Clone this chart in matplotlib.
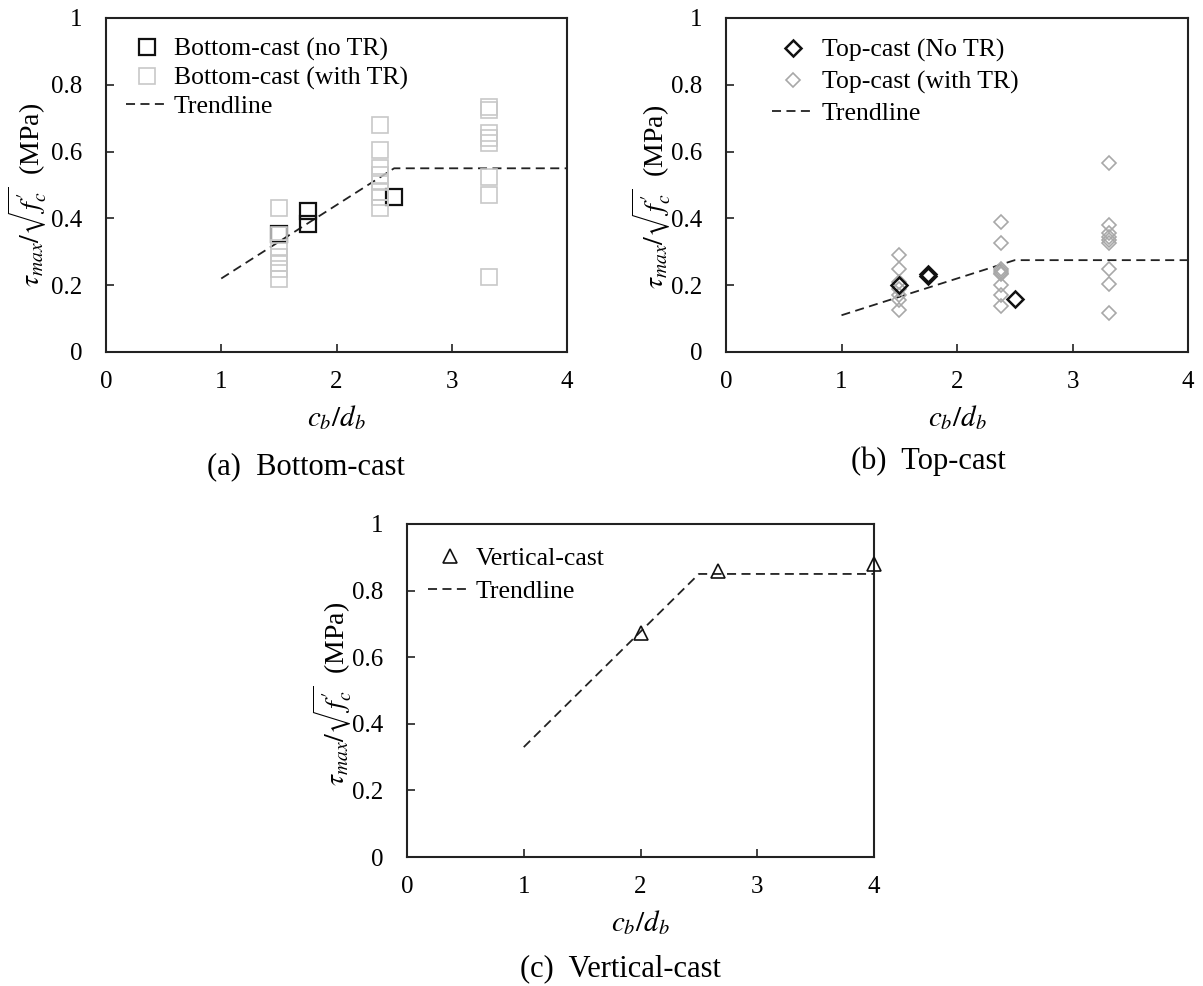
import matplotlib
matplotlib.use('Agg')
import matplotlib.pyplot as plt

plt.rcParams['font.family'] = ['Liberation Serif', 'DejaVu Serif']
plt.rcParams['mathtext.fontset'] = 'stix'

# (a) bottom-cast
a_x_notr = [1.5, 1.75, 1.75, 2.5]
a_y_notr = [0.352, 0.421, 0.383, 0.465]
a_x_tr = [1.5, 1.5, 1.5, 1.5, 1.5, 1.5, 1.5,
          2.38, 2.38, 2.38, 2.38, 2.38, 2.38, 2.38, 2.38,
          3.32, 3.32, 3.32, 3.32, 3.32, 3.32, 3.32, 3.32]
a_y_tr = [0.43, 0.35, 0.31, 0.285, 0.265, 0.25, 0.22,
          0.68, 0.605, 0.55, 0.53, 0.51, 0.48, 0.465, 0.43,
          0.735, 0.725, 0.655, 0.64, 0.625, 0.525, 0.47, 0.225]
a_trend_x = [1.0, 2.5, 4.0]
a_trend_y = [0.22, 0.55, 0.55]

# (b) top-cast
b_x_notr = [1.5, 1.75, 1.75, 2.5]
b_y_notr = [0.20, 0.234, 0.228, 0.16]
b_x_tr = [1.5, 1.5, 1.5, 1.5, 1.5, 1.5, 1.5,
          2.38, 2.38, 2.38, 2.38, 2.38, 2.38, 2.38, 2.38, 2.38,
          3.32, 3.32, 3.32, 3.32, 3.32, 3.32, 3.32, 3.32, 3.32]
b_y_tr = [0.29, 0.25, 0.21, 0.19, 0.17, 0.155, 0.125,
          0.39, 0.325, 0.248, 0.243, 0.238, 0.233, 0.20, 0.17, 0.138,
          0.565, 0.38, 0.355, 0.345, 0.335, 0.325, 0.25, 0.205, 0.118]
b_trend_x = [1.0, 2.5, 4.0]
b_trend_y = [0.11, 0.275, 0.275]

# (c) vertical-cast
c_x = [2.0, 2.667, 4.0]
c_y = [0.672, 0.858, 0.88]
c_trend_x = [1.0, 2.5, 4.0]
c_trend_y = [0.33, 0.85, 0.85]

x_ticks = [0, 1, 2, 3, 4]
y_ticks = [0, 0.2, 0.4, 0.6, 0.8, 1.0]
y_tick_labels = ['0', '0.2', '0.4', '0.6', '0.8', '1']

ylab = r'$\tau_{max}/\sqrt{f^{\prime}_{c}}$  (MPa)'
xlab = r'$c_b/d_b$'

W, H = 1203, 986
fig = plt.figure(figsize=(W/100, H/100), dpi=100)


def px_axes(left, top, right, bottom):
    return fig.add_axes([left/W, 1-bottom/H, (right-left)/W, (bottom-top)/H])


def style(ax, ylx, yly):
    ax.set_xlim(0, 4)
    ax.set_ylim(0, 1)
    ax.set_xticks(x_ticks)
    ax.set_yticks(y_ticks)
    ax.set_yticklabels(y_tick_labels)
    ax.tick_params(direction='in', length=6, width=1.2, labelsize=18, color='#222222')
    ax.tick_params(axis='y', pad=17)
    ax.tick_params(axis='x', pad=14)
    for s in ax.spines.values():
        s.set_linewidth(1.5)
        s.set_color('#222222')
    ax.set_xlabel(xlab, fontsize=21, va='center')
    ax.xaxis.set_label_coords(0.5, -0.198)
    ax.set_ylabel(ylab, fontsize=20, va='center')
    ax.yaxis.set_label_coords(ylx, yly)


trend_kw = dict(color='#222222', lw=1.3, dashes=(5, 3))

############ (a)
ax1 = px_axes(106, 18, 567, 352)
ax1.plot(a_trend_x, a_trend_y, label='Trendline', zorder=2, **trend_kw)
ax1.plot(a_x_notr, a_y_notr, 's', ms=11, mfc='none', mec='#111111', mew=1.6,
         label='Bottom-cast (no TR)', zorder=3)
ax1.plot(a_x_tr, a_y_tr, 's', ms=11, mfc='none', mec='#c8c8c8', mew=1.2,
         label='Bottom-cast (with TR)', zorder=4)
style(ax1, -0.17, 0.47)
h, l = ax1.get_legend_handles_labels()
ax1.legend([h[1], h[2], h[0]], [l[1], l[2], l[0]], loc='upper left',
           bbox_to_anchor=(0.044, 0.94), frameon=False, fontsize=18.5,
           borderpad=0, borderaxespad=0, handlelength=1.65,
           handletextpad=0.2, labelspacing=0.2, numpoints=1)

############ (b)
ax2 = px_axes(726, 18, 1188, 352)
ax2.plot(b_trend_x, b_trend_y, label='Trendline', zorder=2, **trend_kw)
ax2.plot(b_x_tr, b_y_tr, 'D', ms=7.5, mfc='none', mec='#a8a8a8', mew=1.2,
         label='Top-cast (with TR)', zorder=3)
ax2.plot(b_x_notr, b_y_notr, 'D', ms=8, mfc='none', mec='#111111', mew=1.8,
         label='Top-cast (No TR)', zorder=4)
style(ax2, -0.16, 0.465)
h, l = ax2.get_legend_handles_labels()
ax2.legend([h[2], h[1], h[0]], [l[2], l[1], l[0]], loc='upper left',
           bbox_to_anchor=(0.10, 0.937), frameon=False, fontsize=18.5,
           borderpad=0, borderaxespad=0, handlelength=1.62,
           handletextpad=0.3, labelspacing=0.32, numpoints=1)

############ (c)
ax3 = px_axes(407, 524, 874, 857)
ax3.plot(c_trend_x, c_trend_y, label='Trendline', zorder=2, **trend_kw)
ax3.plot(c_x, c_y, '^', ms=10, mfc='none', mec='#111111', mew=1.2,
         label='Vertical-cast', zorder=3, clip_on=False)
style(ax3, -0.158, 0.49)
h, l = ax3.get_legend_handles_labels()
ax3.legend([h[1], h[0]], [l[1], l[0]], loc='upper left',
           bbox_to_anchor=(0.046, 0.932), frameon=False, fontsize=18.5,
           borderpad=0, borderaxespad=0, handlelength=1.65,
           handletextpad=0.2, labelspacing=0.42, numpoints=1)

fig.text(306/W, 1-467/H, '(a)  Bottom-cast', fontsize=22, ha='center', va='center')
fig.text(928/W, 1-461/H, '(b)  Top-cast', fontsize=22, ha='center', va='center')
fig.text(620/W, 1-969/H, '(c)  Vertical-cast', fontsize=22, ha='center', va='center')

fig.savefig('out.png', dpi=100)
